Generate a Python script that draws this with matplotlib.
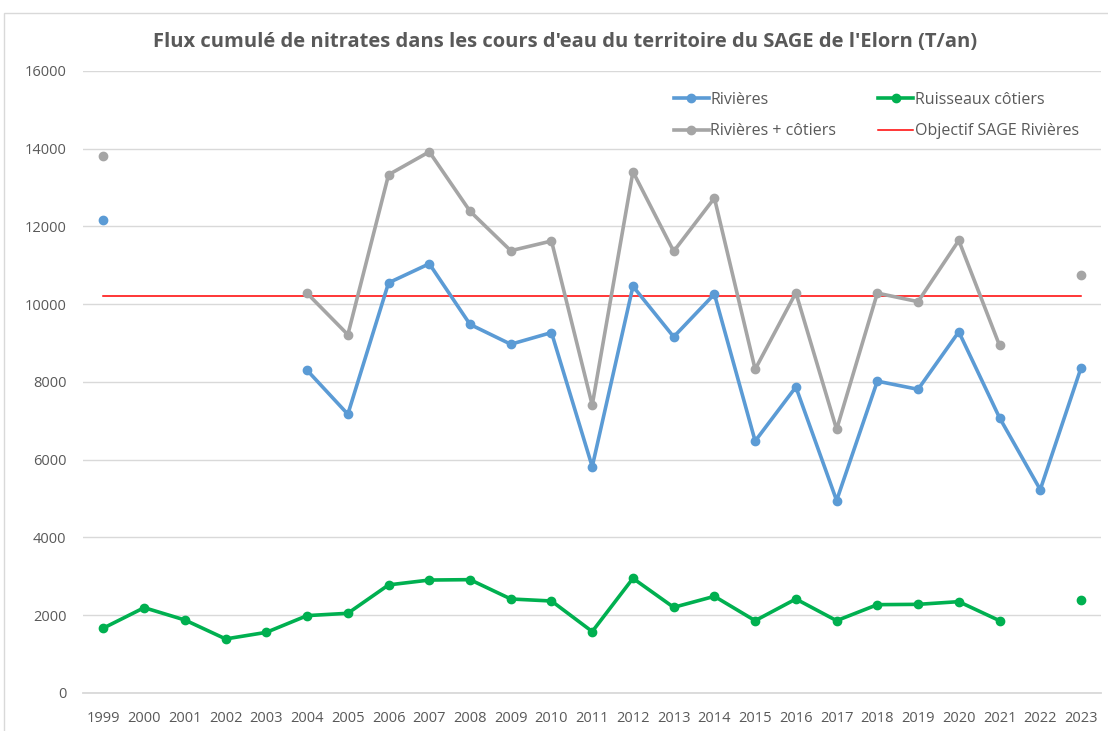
import numpy as np
import matplotlib.pyplot as plt
from matplotlib.patches import Rectangle

nan = np.nan
years = [str(y) for y in range(1999, 2024)]

# Flux (T/an)
rivieres = [12170, nan, nan, nan, nan, 8300, 7170, 10550, 11040, 9480, 8970, 9270,
            5820, 10460, 9160, 10260, 6480, 7870, 4950, 8020, 7810, 9290, 7080, 5230, 8360]
ruisseaux = [1670, 2195, 1877, 1390, 1560, 1990, 2050, 2780, 2905, 2915, 2418, 2366,
             1580, 2949, 2203, 2486, 1860, 2418, 1860, 2272, 2280, 2349, 1860, nan, 2400]
total = [13820, nan, nan, nan, nan, 10280, 9215, 13330, 13920, 12390, 11375, 11625,
         7405, 13408, 11360, 12730, 8325, 10295, 6780, 10285, 10065, 11640, 8940, nan, 10760]
objectif = [10200] * len(years)

plt.rcParams['font.family'] = ['Open Sans', 'DejaVu Sans']

fig = plt.figure(figsize=(11.08, 7.31), dpi=100)
ax = fig.add_axes([0.075, 0.052, 0.919, 0.851])

x = np.arange(len(years))
# ordre choisi pour que la légende (remplie par colonnes) donne les mêmes lignes
l1, = ax.plot(x, rivieres, color='#5B9BD5', lw=2.6, marker='o', ms=6, label='Rivières', zorder=3)
l2, = ax.plot(x, ruisseaux, color='#00B050', lw=2.6, marker='o', ms=6, label='Ruisseaux côtiers', zorder=3)
l3, = ax.plot(x, total, color='#A5A5A5', lw=2.6, marker='o', ms=6, label='Rivières + côtiers', zorder=3)
l4, = ax.plot(x, objectif, color='#FF0000', lw=1.1, label='Objectif SAGE Rivières', zorder=2)

ax.set_xlim(-0.5, len(years) - 0.5)
ax.set_ylim(0, 16000)
ax.set_yticks(range(0, 16001, 2000))
ax.set_xticks(x)
ax.set_xticklabels(years)
ax.grid(axis='y', color='#D9D9D9', lw=1)
ax.set_axisbelow(True)
for s in ['top', 'right', 'left']:
    ax.spines[s].set_visible(False)
ax.spines['bottom'].set_color('#D9D9D9')
ax.spines['bottom'].set_linewidth(1.3)
ax.tick_params(axis='both', length=0, labelsize=10.5, colors='#595959')
ax.tick_params(axis='y', pad=12)
ax.tick_params(axis='x', pad=13)

ax.legend([l1, l3, l2, l4], [l.get_label() for l in [l1, l3, l2, l4]],
          ncol=2, loc='upper right', bbox_to_anchor=(0.992, 0.99), frameon=False,
          fontsize=11.5, handlelength=2.2, handletextpad=0.1, columnspacing=2.6,
          labelspacing=1.0, labelcolor='#595959')

fig.text(0.51, 0.942, "Flux cumulé de nitrates dans les cours d'eau du territoire du SAGE de l'Elorn (T/an)",
         ha='center', va='center', fontsize=14.5, fontweight='bold', color='#595959',
         family=['Liberation Sans Narrow', 'Open Sans', 'DejaVu Sans'])

# cadre du graphique
fig.patches.append(Rectangle((4 / 1108, -0.1), 1.2, 1 - 13 / 731 + 0.1, transform=fig.transFigure,
                             fill=False, edgecolor='#D9D9D9', lw=1))

plt.savefig('out.png', dpi=100)
